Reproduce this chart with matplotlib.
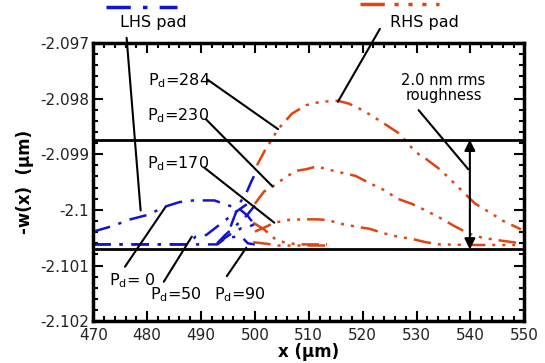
import matplotlib
matplotlib.use("Agg")
import matplotlib.pyplot as plt
from matplotlib.lines import Line2D
from matplotlib.ticker import MultipleLocator

plt.rcParams['font.family'] = ['DejaVu Sans']
plt.rcParams['mathtext.default'] = 'regular'

# ---- data ----
# LHS pad (blue) curves
lhs_p0_x = [470, 473.6, 476.9, 480.1, 483.4, 486.0, 488.6, 492.5, 495.1, 497.1, 498.7, 499.8]
lhs_p0_y = [-2.10039, -2.10029, -2.10017, -2.10009, -2.09994, -2.09986, -2.09983, -2.09983,
            -2.09992, -2.09998, -2.10011, -2.10025]
lhs_p50_x = [470, 480, 487.5, 489, 491, 493, 495, 497, 498.5]
lhs_p50_y = [-2.10062, -2.10062, -2.10062, -2.10048, -2.10045, -2.10030, -2.10015, -2.10000, -2.09990]
lhs_p90_x = [470, 480, 490, 493, 494.5, 496.5, 497.8, 498.7, 500]
lhs_p90_y = [-2.10062, -2.10062, -2.10062, -2.10062, -2.10051, -2.10048, -2.10051, -2.10060, -2.10062]
lhs_p170_x = [493, 494.5, 496, 497.5, 499, 500]
lhs_p170_y = [-2.10062, -2.10050, -2.10040, -2.10033, -2.10030, -2.10025]
lhs_p230_x = [493, 494.5, 496.5, 498.5, 500]
lhs_p230_y = [-2.10060, -2.10045, -2.10028, -2.10010, -2.09992]
lhs_p284_x = [495.5, 497.1, 498.4, 499.3, 500]
lhs_p284_y = [-2.10030, -2.09989, -2.09970, -2.09950, -2.09936]

# RHS pad (red) curves
rhs_p284_x = [500.4, 501.7, 503.3, 504.3, 506.9, 509.5, 512.1, 515.4, 517.4, 520.0, 523.2, 526.5,
              527.8, 529.8, 531.7, 534.3, 537.0, 538.9, 540.9, 543.5, 546.1, 549.4]
rhs_p284_y = [-2.09920, -2.09896, -2.09871, -2.09855, -2.09827, -2.09812, -2.09806, -2.09804,
              -2.09809, -2.09821, -2.09840, -2.09861, -2.09874, -2.09896, -2.09908, -2.09927,
              -2.09952, -2.09970, -2.09989, -2.10004, -2.10020, -2.10035]
rhs_p230_x = [500.0, 501.7, 503.3, 505.6, 507.6, 509.5, 511.5, 513.4, 516.0, 518.7, 521.3, 523.9,
              526.5, 529.1, 531.7, 534.3, 537.0, 539.6, 542.2, 544.8, 549.4]
rhs_p230_y = [-2.09989, -2.09967, -2.09958, -2.09942, -2.09930, -2.09927, -2.09922, -2.09927,
              -2.09933, -2.09939, -2.09952, -2.09964, -2.09980, -2.09989, -2.10001, -2.10014,
              -2.10029, -2.10042, -2.10050, -2.10054, -2.10060]
rhs_p170_x = [500.0, 501.7, 503.6, 506.3, 508.9, 511.5, 513.4, 516.0, 518.7, 521.3, 523.9, 526.5,
              529.1, 531.7, 534.3, 540.2, 544.8, 549.4]
rhs_p170_y = [-2.10039, -2.10032, -2.10023, -2.10018, -2.10017, -2.10017, -2.10018, -2.10025,
              -2.10030, -2.10034, -2.10042, -2.10048, -2.10052, -2.10058, -2.10062, -2.10063,
              -2.10063, -2.10063]
rhs_p90_x = [499.7, 501.7, 503.6, 505.6, 508.2, 513.4]
rhs_p90_y = [-2.10023, -2.10035, -2.10051, -2.10059, -2.10062, -2.10062]
rhs_p50_x = [499.7, 502.3, 504.3, 508.0, 513.4]
rhs_p50_y = [-2.10058, -2.10061, -2.10064, -2.10064, -2.10064]

roughness_levels = [-2.09874, -2.10071]

xticks = [470, 480, 490, 500, 510, 520, 530, 540, 550]
yticks = [-2.102, -2.101, -2.100, -2.099, -2.098, -2.097]
ytick_labels = ['-2.102', '-2.101', '-2.1', '-2.099', '-2.098', '-2.097']

BLUE = '#1414d0'
RED = '#e04412'
blue_ls = (0, (7, 3.5, 1.3, 3.5))
red_ls = (0, (7, 2.8, 1.2, 2.8, 1.2, 2.8, 1.2, 2.8))

fig = plt.figure(figsize=(5.45, 3.63), dpi=100)
ax = fig.add_axes([0.171, 0.115, 0.791, 0.767])

for xs, ys in [(lhs_p0_x, lhs_p0_y), (lhs_p50_x, lhs_p50_y), (lhs_p90_x, lhs_p90_y),
               (lhs_p170_x, lhs_p170_y), (lhs_p230_x, lhs_p230_y), (lhs_p284_x, lhs_p284_y)]:
    ax.plot(xs, ys, color=BLUE, lw=1.8, linestyle=blue_ls)
for xs, ys in [(rhs_p284_x, rhs_p284_y), (rhs_p230_x, rhs_p230_y), (rhs_p170_x, rhs_p170_y),
               (rhs_p90_x, rhs_p90_y), (rhs_p50_x, rhs_p50_y)]:
    ax.plot(xs, ys, color=RED, lw=1.8, linestyle=red_ls)

for lvl in roughness_levels:
    ax.axhline(lvl, color='black', lw=2)

ax.set_xlim(470, 550)
ax.set_ylim(-2.102, -2.097)
ax.set_xticks(xticks)
ax.set_xticklabels([str(v) for v in xticks])
ax.set_yticks(yticks)
ax.set_yticklabels(ytick_labels)
ax.xaxis.set_minor_locator(MultipleLocator(2))
ax.yaxis.set_minor_locator(MultipleLocator(0.0002))
ax.tick_params(which='both', direction='in', top=True, right=True, width=1.5,
               labelsize=11, labelcolor='#222222')
ax.tick_params(which='major', length=7)
ax.tick_params(which='minor', length=3.5)
ax.tick_params(axis='x', pad=5)
ax.tick_params(axis='y', pad=3)
for s in ax.spines.values():
    s.set_linewidth(2.5)

ax.set_xlabel('x (µm)', fontsize=12, fontweight='bold', labelpad=0)
ax.set_ylabel('-w(x)  (µm)', fontsize=12, fontweight='bold', labelpad=4)

# annotations
lkw = dict(arrowprops=dict(arrowstyle='-', color='black', lw=1.5, shrinkA=0, shrinkB=0),
           annotation_clip=False)
tkw = dict(fontsize=11.5, ha='center', va='center')

def ann(text, txy, lstart, lend, **kw):
    ax.annotate('', xy=lend, xytext=lstart, **lkw)
    ax.text(txy[0], txy[1], text, **{**tkw, **kw}, clip_on=False)

ann('P$_d$=284', (486.0, -2.09768), (491.2, -2.09766), (504.3, -2.09855))
ann('P$_d$=230', (485.7, -2.09830), (490.9, -2.09837), (503.3, -2.09958))
ann('P$_d$=170', (485.7, -2.09917), (490.6, -2.09924), (503.6, -2.10023))
ann('P$_d$= 0', (477.2, -2.10127), (475.9, -2.10102), (483.4, -2.09995))
ann('P$_d$=50', (485.3, -2.10152), (483.1, -2.10129), (488.3, -2.10048))
ann('P$_d$=90', (497.3, -2.10152), (494.8, -2.10119), (498.4, -2.10068))
ann('LHS pad', (481.1, -2.09664), (476.2, -2.09691), (478.8, -2.10001))
ann('RHS pad', (531.4, -2.09664), (523.2, -2.09675), (515.4, -2.09806))
ann('2.0 nm rms\nroughness', (535.0, -2.09782), (530.4, -2.09821), (539.6, -2.09927),
    fontsize=10.5, linespacing=1.0)

ax.annotate('', xy=(539.9, roughness_levels[0]), xytext=(539.9, roughness_levels[1]),
            arrowprops=dict(arrowstyle='<|-|>', color='black', lw=1.5,
                            mutation_scale=16, shrinkA=0, shrinkB=0))

# legend samples above the axes
fig.add_artist(Line2D([0.195, 0.325], [0.982, 0.982], color=BLUE, lw=2.5, linestyle=blue_ls,
                      transform=fig.transFigure))
fig.add_artist(Line2D([0.66, 0.805], [0.988, 0.988], color=RED, lw=2.5, linestyle=red_ls,
                      transform=fig.transFigure))

fig.savefig('out.png', dpi=100)
